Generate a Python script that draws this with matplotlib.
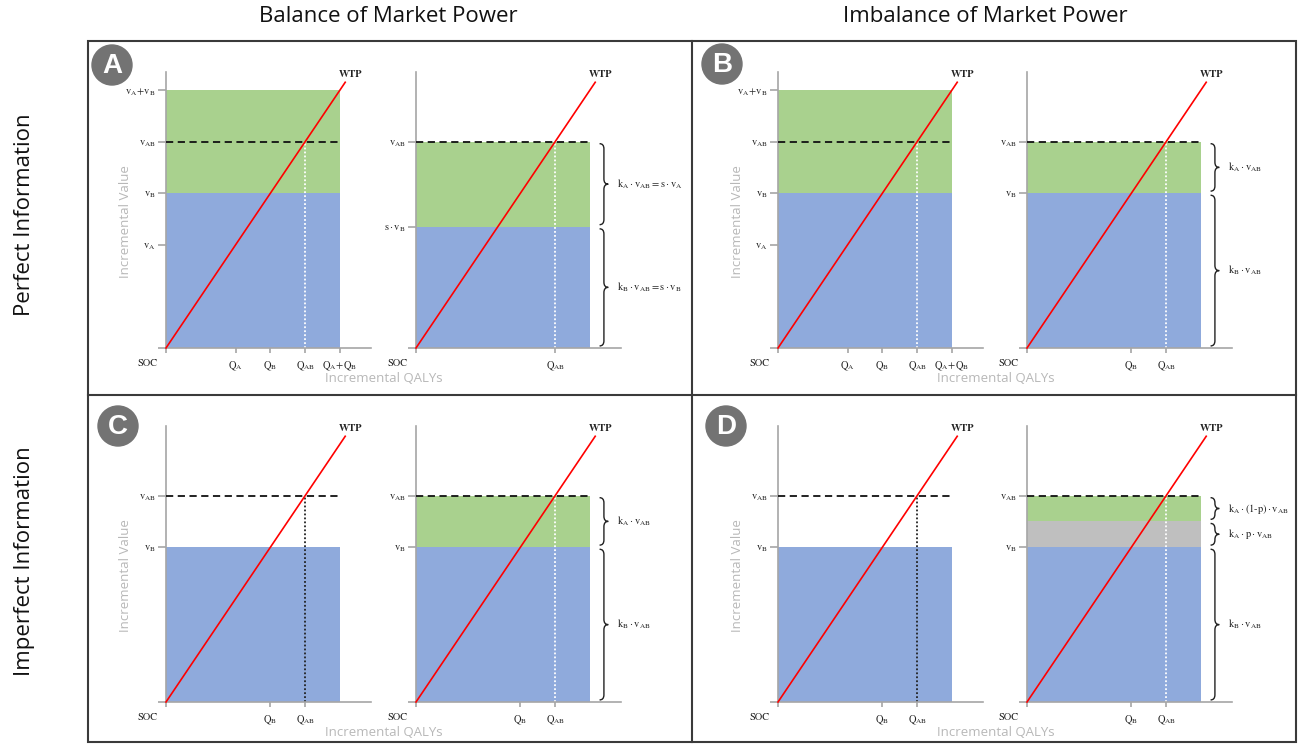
import matplotlib.pyplot as plt
from matplotlib.patches import Circle, Rectangle, PathPatch
from matplotlib.path import Path

plt.rcParams['mathtext.fontset'] = 'stix'
plt.rcParams['font.family'] = ['Open Sans', 'DejaVu Sans']

# value levels, as a share of v_A + v_B
v_A, v_B, v_AB, v_sum = 0.40, 0.60, 0.80, 1.00
s_vB = 0.47          # s * v_B in panel A (right)
kA_p_top = 0.70      # border between k_A*p and k_A*(1-p) in panel D (right)

# QALY levels
Q_A, Q_B, Q_AB, Q_sum = 0.40, 0.60, 0.80, 1.00
wtp_x = [0, 1.03]
wtp_y = [0, 1.03]
box_right = 1.00

GREEN, BLUE, GREY = '#a9d18e', '#8faadc', '#bfbfbf'

lab_vA = r'$\mathrm{v_A}$'
lab_vB = r'$\mathrm{v_B}$'
lab_vAB = r'$\mathrm{v_{AB}}$'
lab_vsum = r'$\mathrm{v_A\!+\!v_B}$'
lab_svB = r'$\mathrm{s \cdot v_B}$'
lab_QA = r'$\mathrm{Q_A}$'
lab_QB = r'$\mathrm{Q_B}$'
lab_QAB = r'$\mathrm{Q_{AB}}$'
lab_Qsum = r'$\mathrm{Q_A\!+\!Q_B}$'

W, H = 1313, 745
SX, SY = 174, 258   # pixels per data unit
fig = plt.figure(figsize=(W / 100, H / 100), dpi=100)

# overlay in pixel coordinates for the frame, titles and panel letters
bg = fig.add_axes([0, 0, 1, 1])
bg.set_xlim(0, W)
bg.set_ylim(H, 0)
bg.axis('off')
bg.add_patch(Rectangle((88, 41), 1208, 701, fill=False, ec='#3a3a3a', lw=1.5))
bg.plot([692, 692], [41, 742], color='#3a3a3a', lw=1.5)
bg.plot([88, 1296], [395, 395], color='#3a3a3a', lw=1.5)

bg.text(388, 16, 'Balance of Market Power', ha='center', va='center', fontsize=16, color='#111')
bg.text(985, 16, 'Imbalance of Market Power', ha='center', va='center', fontsize=16, color='#111')
bg.text(25, 215, 'Perfect Information', ha='center', va='center', rotation=90, fontsize=16, color='#111')
bg.text(25, 561, 'Imperfect Information', ha='center', va='center', rotation=90, fontsize=16, color='#111')

for letter, cx, cy in [('A', 112, 65), ('B', 722, 64), ('C', 118, 426), ('D', 726, 426)]:
    bg.add_patch(Circle((cx, cy), 20, color='#737373'))
    bg.text(cx, cy + 1, letter, ha='center', va='center', fontsize=20, fontweight='bold',
            color='white', family='Liberation Sans')


def brace(ax, lo, hi, label, x=1.08):
    lo, hi = lo + 0.008, hi - 0.008
    mid = (lo + hi) / 2
    w, d = 0.025, 0.02
    verts = [(x - w, hi), (x, hi), (x, hi - d), (x, mid + d), (x, mid), (x + w, mid),
             (x, mid), (x, mid - d), (x, lo + d), (x, lo), (x - w, lo)]
    codes = [Path.MOVETO, Path.CURVE3, Path.CURVE3, Path.LINETO, Path.CURVE3, Path.CURVE3,
             Path.CURVE3, Path.CURVE3, Path.LINETO, Path.CURVE3, Path.CURVE3]
    ax.add_patch(PathPatch(Path(verts, codes), fill=False, lw=1.0, ec='#222', clip_on=False))
    ax.text(x + 0.075, mid, label, ha='left', va='center', fontsize=7.5, color='#222')


def panel(ox, oy, bands, yt, ylab, xt, xlab, dot_color, braces=(), left=False):
    x0, x1, y0, y1 = -0.35, 1.35, -0.2, 1.15
    ax = fig.add_axes([(ox + x0 * SX) / W, 1 - (oy - y0 * SY) / H,
                       (x1 - x0) * SX / W, (y1 - y0) * SY / H])
    ax.set_xlim(x0, x1)
    ax.set_ylim(y0, y1)
    ax.patch.set_alpha(0)
    for s in ['top', 'right']:
        ax.spines[s].set_visible(False)
    ax.spines['left'].set_position(('data', 0))
    ax.spines['bottom'].set_position(('data', 0))
    ax.spines['left'].set_bounds(0, 1.07)
    ax.spines['bottom'].set_bounds(0, 1.18)
    for s in ['left', 'bottom']:
        ax.spines[s].set_color('#a6a6a6')
        ax.spines[s].set_linewidth(1.2)

    for lo, hi, c in bands:
        ax.bar(0, hi - lo, bottom=lo, width=box_right, align='edge', color=c, lw=0, zorder=0)

    ax.set_yticks([0] + yt)
    ax.set_yticklabels([''] + ylab)
    ax.set_xticks([0] + xt)
    ax.set_xticklabels([''] + xlab)
    ax.tick_params(axis='y', length=6, width=1.2, color='#a6a6a6', pad=1.5, labelsize=7.5, labelcolor='#222')
    ax.tick_params(axis='x', length=3.6, width=1.2, color='#a6a6a6', pad=5, labelsize=7.5, labelcolor='#222')

    ax.plot([Q_AB, Q_AB], [0, v_AB], color=dot_color, lw=1.3, ls=(0, (1, 1.2)), zorder=2)
    ax.plot([0, box_right], [v_AB, v_AB], color='#111', lw=1.3, ls=(0, (4, 2.5)), zorder=3)
    ax.plot(wtp_x, wtp_y, color='red', lw=1.2, zorder=4)
    ax.text(wtp_x[1] + 0.03, wtp_y[1] + 0.03, 'WTP', ha='center', va='center', fontsize=7.5,
            fontweight='bold', family='STIXGeneral', color='#222')
    ax.text(-0.05, -0.058, 'SOC', ha='right', va='center', fontsize=7.5, family='STIXGeneral', color='#222')

    for lo, hi, label in braces:
        brace(ax, lo, hi, label)

    if left:
        ax.text(-0.23, 0.49, 'Incremental Value', rotation=90, ha='center', va='center',
                fontsize=9.5, color='#b8b8b8')
        ax.text(1.25, -0.118, 'Incremental QALYs', ha='center', va='center',
                fontsize=9.5, color='#b8b8b8')
    return ax


full_bands = [(0, v_B, BLUE), (v_B, v_sum, GREEN)]
full_yt = [v_A, v_B, v_AB, v_sum]
full_ylab = [lab_vA, lab_vB, lab_vAB, lab_vsum]
full_xt = [Q_A, Q_B, Q_AB, Q_sum]
full_xlab = [lab_QA, lab_QB, lab_QAB, lab_Qsum]

# A
panel(166, 348, full_bands, full_yt, full_ylab, full_xt, full_xlab, 'white', left=True)
panel(416, 348, [(0, s_vB, BLUE), (s_vB, v_AB, GREEN)], [s_vB, v_AB], [lab_svB, lab_vAB],
      [Q_AB], [lab_QAB], 'white',
      braces=[(s_vB, v_AB, r'$\mathrm{k_A \cdot v_{AB} = s \cdot v_A}$'),
              (0, s_vB, r'$\mathrm{k_B \cdot v_{AB} = s \cdot v_B}$')])

# B
panel(778, 348, full_bands, full_yt, full_ylab, full_xt, full_xlab, 'white', left=True)
panel(1027, 348, [(0, v_B, BLUE), (v_B, v_AB, GREEN)], [v_B, v_AB], [lab_vB, lab_vAB],
      [Q_B, Q_AB], [lab_QB, lab_QAB], 'white',
      braces=[(v_B, v_AB, r'$\mathrm{k_A \cdot v_{AB}}$'),
              (0, v_B, r'$\mathrm{k_B \cdot v_{AB}}$')])

# C
panel(166, 702, [(0, v_B, BLUE)], [v_B, v_AB], [lab_vB, lab_vAB],
      [Q_B, Q_AB], [lab_QB, lab_QAB], '#222', left=True)
panel(416, 702, [(0, v_B, BLUE), (v_B, v_AB, GREEN)], [v_B, v_AB], [lab_vB, lab_vAB],
      [Q_B, Q_AB], [lab_QB, lab_QAB], 'white',
      braces=[(v_B, v_AB, r'$\mathrm{k_A \cdot v_{AB}}$'),
              (0, v_B, r'$\mathrm{k_B \cdot v_{AB}}$')])

# D
panel(778, 702, [(0, v_B, BLUE)], [v_B, v_AB], [lab_vB, lab_vAB],
      [Q_B, Q_AB], [lab_QB, lab_QAB], '#222', left=True)
panel(1027, 702, [(0, v_B, BLUE), (v_B, kA_p_top, GREY), (kA_p_top, v_AB, GREEN)],
      [v_B, v_AB], [lab_vB, lab_vAB], [Q_B, Q_AB], [lab_QB, lab_QAB], 'white',
      braces=[(kA_p_top, v_AB, r'$\mathrm{k_A \cdot (1\text{-}p) \cdot v_{AB}}$'),
              (v_B, kA_p_top, r'$\mathrm{k_A \cdot p \cdot v_{AB}}$'),
              (0, v_B, r'$\mathrm{k_B \cdot v_{AB}}$')])

fig.savefig('out.png', dpi=100)
